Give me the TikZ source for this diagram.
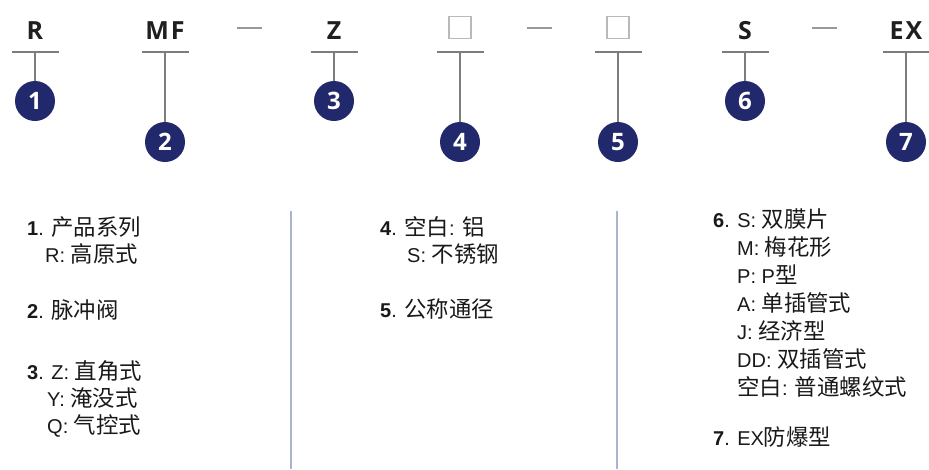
\documentclass[tikz,border=0pt]{standalone}
\usepackage{fontspec}
\setmainfont{Liberation Sans}
\newfontfamily\cjk[Scale=1.12]{Noto Sans CJK SC}
\newfontfamily\codefont[LetterSpace=8]{Open Sans}
\newfontfamily\numfont{Open Sans}
\usetikzlibrary{calc}
\definecolor{rfNavy}{RGB}{33,40,107}
\definecolor{rfRule}{RGB}{125,125,125}
\definecolor{rfSep}{RGB}{165,182,206}
\tikzset{
    code/.style={anchor=base, inner sep=0pt, text=black!88,
        font=\codefont\bfseries\fontsize{25}{28}\selectfont},
    blank/.style={anchor=south, draw=gray!55, line width=1.2pt,
        minimum size=22pt, inner sep=0pt},
    num/.style={circle, fill=rfNavy, text=white, minimum size=40pt,
        inner sep=0pt, font=\numfont\bfseries\fontsize{24}{26}\selectfont},
    rule/.style={draw=rfRule, line width=1.3pt},
    sep/.style={draw=rfSep, line width=1.3pt},
    dashmark/.style={draw=gray!80, line width=1.1pt},
    item/.style={anchor=base west, inner sep=0pt, text=black!90,
        font=\fontsize{20}{24}\selectfont},
}

\begin{document}
\begin{tikzpicture}[x=1pt, y=-1pt]
    \useasboundingbox (0,0) rectangle (929,469);
    \foreach \i/\x/\d/\s/\l in {1/35/101/code/R, 2/165/142/code/MF,
        3/334/101/code/Z, 4/460/142/blank/, 5/618/142/blank/,
        6/745/101/code/S, 7/906/142/code/EX} {
        \node[\s] (c\i) at (\x,39) {\l};
        \coordinate (r\i) at (\x,52);
        \draw[rule] ($(r\i)+(-23.5,0)$) -- ($(r\i)+(23.5,0)$);
        \node[num] (n\i) at (\x,\d) {\i};
        \draw[rule] (r\i) -- (n\i);
    }
    \foreach \x in {249.5, 539.5, 824.5}
        \draw[dashmark] (\x-12.5,28) -- (\x+12.5,28);
    \draw[sep] (291,211) -- (291,469);
    \draw[sep] (617,211) -- (617,469);
    \foreach \x/\y/\t [count=\k] in {
        27/235/{\textbf{1}. {\cjk 产品系列}},
        45/262/{R: {\cjk 高原式}},
        27/318/{\textbf{2}. {\cjk 脉冲阀}},
        27/379/{\textbf{3}. Z: {\cjk 直角式}},
        47/406/{Y: {\cjk 淹没式}},
        47/433/{Q: {\cjk 气控式}},
        380/235/{\textbf{4}. {\cjk 空白}: {\cjk 铝}},
        407/262/{S: {\cjk 不锈钢}},
        380/317/{\textbf{5}. {\cjk 公称通径}},
        713/227/{\textbf{6}. S: {\cjk 双膜片}},
        737/255/{M: {\cjk 梅花形}},
        737/283/{P: P{\cjk 型}},
        737/311/{A: {\cjk 单插管式}},
        737/339/{J: {\cjk 经济型}},
        737/367/{DD: {\cjk 双插管式}},
        737/395/{{\cjk 空白}: {\cjk 普通螺纹式}},
        713/445/{\textbf{7}. EX{\cjk 防爆型}}} {
        \node[item] (t\k) at (\x,\y) {\t};
    }
\end{tikzpicture}
\end{document}
